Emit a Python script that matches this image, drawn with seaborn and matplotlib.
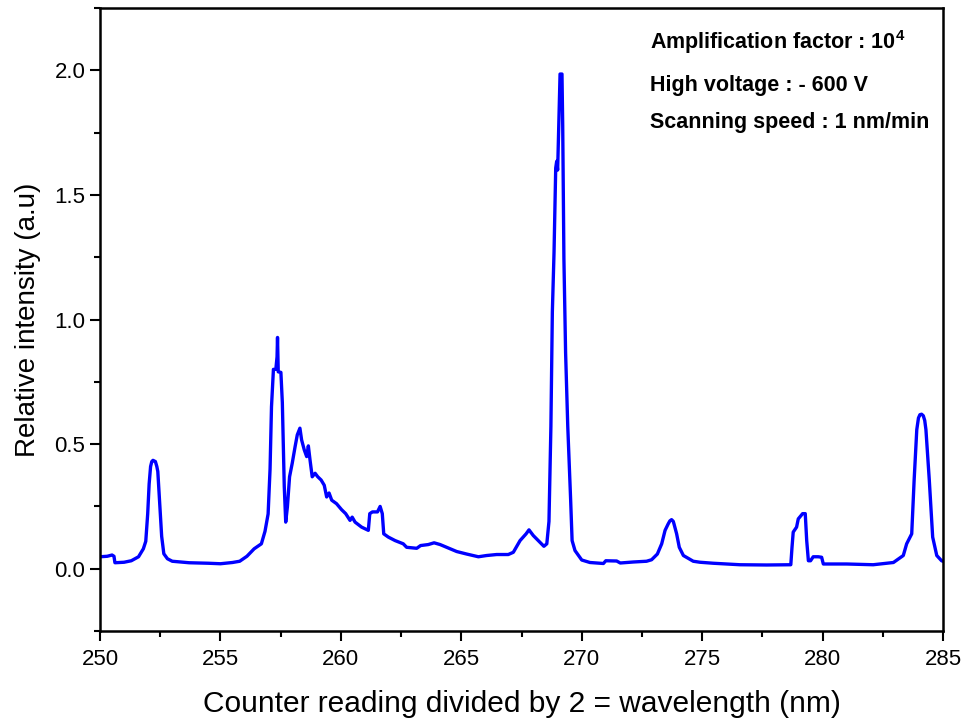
import numpy as np
import pandas as pd
import matplotlib
matplotlib.use('Agg')
import matplotlib.pyplot as plt
from matplotlib.ticker import MultipleLocator
import seaborn as sns

# Spectrum
wavelength = [
    250.0, 250.3, 250.5, 250.58, 250.62, 251.0, 251.3, 251.6, 251.8, 251.9,
    251.98, 252.04, 252.1, 252.15, 252.2, 252.3, 252.36, 252.4, 252.48, 252.56, 252.65, 252.8,
    253.0, 253.7, 254.5, 255.0, 255.5, 255.8, 256.1, 256.4, 256.7, 256.85,
    256.98, 257.06, 257.12, 257.2, 257.3, 257.35, 257.37, 257.4, 257.51, 257.57,
    257.65, 257.71, 257.78, 257.87, 257.98, 258.1, 258.19, 258.3, 258.37, 258.48,
    258.58, 258.65, 258.72, 258.81, 258.93, 259.04, 259.18, 259.31, 259.41, 259.51,
    259.62, 259.82, 260.03, 260.2, 260.38, 260.47, 260.59, 260.86, 261.14, 261.2,
    261.31, 261.52, 261.63, 261.72, 261.78, 261.97, 262.25, 262.59, 262.73, 263.15,
    263.31, 263.63, 263.87, 264.12, 264.39, 264.81, 265.22, 265.71, 266.05, 266.47,
    266.95, 267.16, 267.44, 267.69, 267.81, 267.99, 268.27, 268.43, 268.55, 268.64,
    268.72, 268.78, 268.85, 268.92, 268.96, 269.0, 269.1, 269.18, 269.21, 269.26,
    269.33, 269.42, 269.54, 269.6, 269.72, 270.0, 270.34, 270.9, 271.0, 271.45,
    271.6, 272.14, 272.69, 272.9, 273.14, 273.32, 273.46, 273.59, 273.66, 273.73, 273.8, 273.83,
    273.94, 274.05, 274.22, 274.63, 274.91, 275.46, 276.57, 277.68, 278.68, 278.73,
    278.78, 278.92, 278.99, 279.17, 279.28, 279.34, 279.41, 279.5, 279.61, 279.82,
    279.96, 280.03, 281.0, 282.1, 282.94, 283.35, 283.49, 283.7, 283.8, 283.91,
    283.98, 284.04, 284.11, 284.18, 284.24, 284.29, 284.43, 284.57, 284.74, 284.94, 285.0,
]
intensity = [
    0.048, 0.050, 0.055, 0.050, 0.024, 0.026, 0.032, 0.048, 0.080, 0.110,
    0.220, 0.340, 0.410, 0.430, 0.435, 0.430, 0.410, 0.390, 0.260, 0.130, 0.060, 0.040,
    0.030, 0.024, 0.022, 0.020, 0.025, 0.030, 0.050, 0.080, 0.100, 0.150,
    0.220, 0.400, 0.650, 0.800, 0.800, 0.850, 0.928, 0.790, 0.788, 0.667,
    0.330, 0.187, 0.248, 0.369, 0.423, 0.490, 0.537, 0.564, 0.517, 0.477,
    0.450, 0.493, 0.436, 0.369, 0.383, 0.369, 0.356, 0.335, 0.288, 0.304,
    0.275, 0.261, 0.237, 0.221, 0.194, 0.207, 0.187, 0.167, 0.154, 0.221,
    0.228, 0.228, 0.250, 0.221, 0.140, 0.127, 0.113, 0.100, 0.086, 0.082,
    0.093, 0.097, 0.104, 0.097, 0.086, 0.069, 0.059, 0.048, 0.053, 0.057,
    0.057, 0.066, 0.113, 0.140, 0.156, 0.133, 0.106, 0.090, 0.100, 0.190,
    0.571, 1.030, 1.270, 1.608, 1.635, 1.600, 1.985, 1.985, 1.780, 1.244,
    0.867, 0.571, 0.275, 0.113, 0.073, 0.035, 0.025, 0.021, 0.032, 0.031,
    0.023, 0.027, 0.030, 0.036, 0.059, 0.100, 0.154, 0.180, 0.192, 0.197, 0.190, 0.180,
    0.140, 0.086, 0.053, 0.030, 0.026, 0.022, 0.016, 0.015, 0.016, 0.086,
    0.147, 0.167, 0.200, 0.221, 0.221, 0.113, 0.032, 0.032, 0.048, 0.048,
    0.046, 0.019, 0.019, 0.016, 0.025, 0.053, 0.100, 0.140, 0.355, 0.558,
    0.605, 0.618, 0.620, 0.614, 0.595, 0.558, 0.355, 0.127, 0.053, 0.032, 0.030,
]
notes = [
    r'Amplification factor : 10$^{\mathbf{4}}$',
    'High voltage : - 600 V',
    'Scanning speed : 1 nm/min',
]

df = pd.DataFrame({'wavelength': wavelength, 'intensity': intensity})

sns.set_style('white')
plt.rcParams['font.family'] = ['Liberation Sans', 'DejaVu Sans']
plt.rcParams['text.color'] = 'black'
plt.rcParams['axes.labelcolor'] = 'black'
plt.rcParams['xtick.color'] = 'black'
plt.rcParams['ytick.color'] = 'black'
plt.rcParams['mathtext.fontset'] = 'custom'
plt.rcParams['mathtext.rm'] = 'Liberation Sans'
plt.rcParams['mathtext.bf'] = 'Liberation Sans:bold'

fig = plt.figure(figsize=(9.69, 7.28), dpi=100)
ax = fig.add_axes([0.1032, 0.1332, 0.87, 0.8558])

sns.lineplot(data=df, x='wavelength', y='intensity', color='#0000ff',
             linewidth=2.4, estimator=None, ax=ax)

ax.set_xlim(250, 285)
ax.set_ylim(-0.25, 2.25)
ax.xaxis.set_major_locator(MultipleLocator(5))
ax.xaxis.set_minor_locator(MultipleLocator(2.5))
ax.yaxis.set_major_locator(MultipleLocator(0.5))
ax.yaxis.set_minor_locator(MultipleLocator(0.25))
ax.tick_params(axis='both', which='major', direction='out', length=7, width=1.5,
               labelsize=16, bottom=True, left=True, top=False, right=False)
ax.tick_params(axis='x', which='major', pad=6)
ax.tick_params(axis='both', which='minor', direction='out', length=4, width=1.5,
               bottom=True, left=True, top=False, right=False)
for s in ax.spines.values():
    s.set_visible(True)
    s.set_color('black')
    s.set_linewidth(1.8)

ax.set_xlabel('Counter reading divided by 2 = wavelength (nm)', fontsize=21.5, labelpad=14)
ax.set_ylabel('Relative intensity (a.u)', fontsize=20, labelpad=10)

for txt, yy in zip(notes, [0.945, 0.876, 0.817]):
    ax.text(0.652, yy, txt, transform=ax.transAxes, fontsize=15.5, fontweight='bold',
            va='center', ha='left')

fig.savefig('out.png', dpi=100)
